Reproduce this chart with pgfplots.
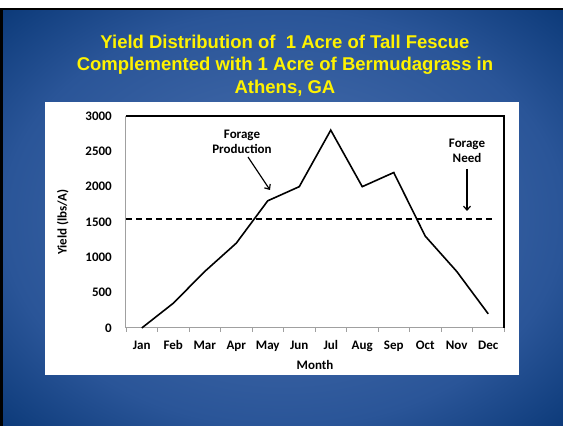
\documentclass[border=0pt]{standalone}
\usepackage{fontspec}
\setmainfont{Carlito}
\newfontfamily\titlefont{Liberation Sans}
\usepackage{pgfplots}
\pgfplotsset{compat=1.18}
\usetikzlibrary{arrows.meta}
\definecolor{slideinner}{HTML}{4D72B0}
\definecolor{slidemid}{HTML}{2A5598}
\definecolor{slideouter}{HTML}{0B3978}
\definecolor{axgray}{HTML}{A0A0A0}
\pgfdeclareradialshading{slidebg}{\pgfpointorigin}{color(0bp)=(slideinner); color(25bp)=(slidemid); color(36bp)=(slideouter); color(50bp)=(slideouter)}
\newcommand{\lblfont}{\bfseries\fontsize{13}{15}\selectfont}
\begin{document}
\begin{tikzpicture}[x=1pt,y=1pt]
\useasboundingbox (0,0) rectangle (563,426);
\fill[white] (0,0) rectangle (563,426);
\fill[black] (0,0) rectangle (563,418);
\shade[shading=slidebg] (3,0) rectangle (563,415);
\fill[white] (45,51) rectangle (519,324);
\begin{scope}[font=\titlefont\bfseries\fontsize{18.5}{22}\selectfont, text=yellow]
\node[anchor=base] at (285,377) {Yield Distribution of\ \ 1 Acre of Tall Fescue};
\node[anchor=base] at (285,355) {Complemented with 1 Acre of Bermudagrass in};
\node[anchor=base] at (285,332) {Athens, GA};
\end{scope}
\begin{axis}[
  at={(126pt,98pt)}, anchor=south west,
  width=378pt, height=212pt, scale only axis,
  xmin=-0.5, xmax=11.5, ymin=0, ymax=3000,
  axis lines*=left,
  axis line style={draw=axgray, line width=1pt},
  xtick={0,...,11},
  xticklabels={Jan,Feb,Mar,Apr,May,Jun,Jul,Aug,Sep,Oct,Nov,Dec},
  ytick={0,500,...,3000},
  minor xtick={-0.5,0.5,...,11.5},
  major tick length=0pt, minor tick length=4pt,
  tick align=outside,
  minor tick style={draw=axgray, line width=0.8pt},
  /pgf/number format/assume math mode=true,
  /pgf/number format/1000 sep={},
  tick label style={font=\lblfont},
  yticklabel style={anchor=east, inner sep=0pt, xshift=-14pt},
  xticklabel style={anchor=base, inner sep=0pt, yshift=-22pt},
  xlabel={Month},
  xlabel style={at={(axis description cs:0.5,-0.198)}, anchor=base, inner sep=0pt, font=\lblfont},
  ylabel={Yield (lbs/A)},
  ylabel style={at={(axis description cs:-0.1574,0.5)}, anchor=base, inner sep=0pt, font=\lblfont},
  clip=false,
]
\addplot[black, line width=1.6pt, mark=none] coordinates {
  (0,0) (1,350) (2,800) (3,1200) (4,1800) (5,2000)
  (6,2800) (7,2000) (8,2200) (9,1300) (10,800) (11,200)};
\addplot[black, line width=1.5pt, dash pattern=on 6pt off 4pt, mark=none] coordinates {
  (-0.5,1540) (11.15,1540)};
\draw[black, line width=1.6pt] (rel axis cs:0,1) -- (rel axis cs:1,1) -- (rel axis cs:1,0);
\end{axis}
\begin{scope}[font=\lblfont]
\node[anchor=base] at (242,287) {Forage};
\node[anchor=base] at (242,272) {Production};
\node[anchor=base] at (467,278) {Forage};
\node[anchor=base] at (467,263) {Need};
\end{scope}
\draw[black, line width=1.2pt, -{Straight Barb[length=4pt,width=7pt]}] (248,269) -- (270,236);
\draw[black, line width=1.2pt, -{Straight Barb[length=4pt,width=7pt]}] (467,257) -- (467,215);
\end{tikzpicture}
\end{document}
